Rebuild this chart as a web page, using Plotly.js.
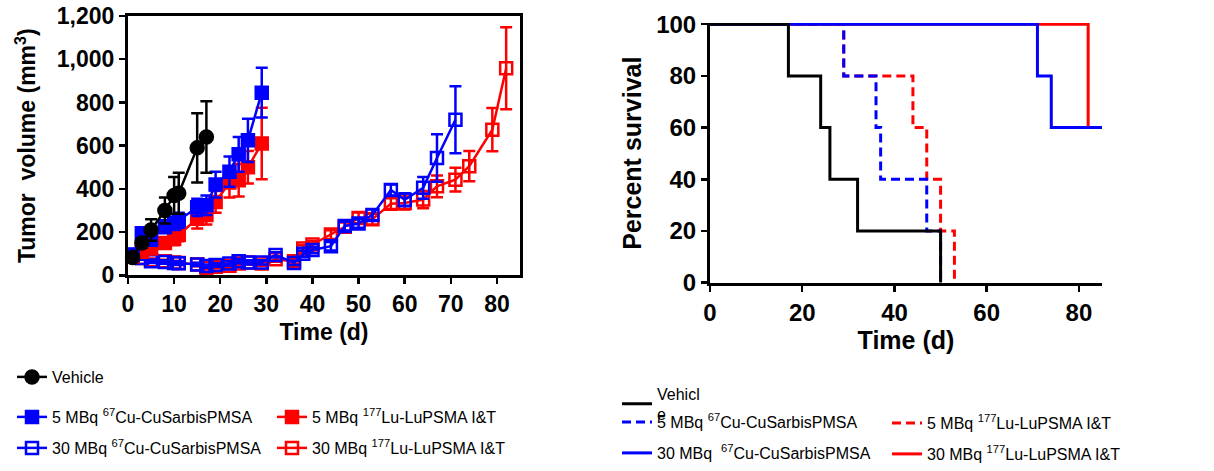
<!DOCTYPE html>
<html>
<head>
<meta charset="utf-8">
<script src="https://cdn.plot.ly/plotly-3.0.1.min.js"></script>
<style>html,body{margin:0;padding:0;background:#fff;}#chart{width:1214px;height:471px;}</style>
</head>
<body>
<div id="chart"></div>
<script>
// ---------- Tumor volume data (left panel) ----------
const vehDays = [1, 3, 5, 8, 10, 11, 15, 17];
const vehVol  = [83, 150, 210, 300, 370, 380, 590, 640];
const vehErr  = [10, 22, 50, 60, 85, 95, 160, 165];

const cu5Days = [1, 3, 5, 8, 10, 11, 15, 17, 19, 22, 24, 26, 29];
const cu5Vol  = [95, 195, 165, 225, 240, 255, 315, 325, 420, 480, 560, 625, 845];
const cu5Err  = [10, 20, 25, 30, 30, 35, 40, 45, 60, 70, 80, 100, 115];

const lu5Days = [1, 3, 5, 8, 10, 11, 15, 17, 19, 22, 24, 26, 29];
const lu5Vol  = [88, 110, 125, 150, 170, 188, 262, 280, 340, 430, 440, 500, 610];
const lu5Err  = [10, 15, 20, 25, 30, 30, 45, 45, 50, 70, 75, 75, 165];

const cu30Days = [1, 3, 5, 8, 10, 11, 15, 17, 19, 22, 24, 26, 29, 32, 36, 38, 40, 44, 47, 50, 53, 57, 60, 64, 67, 71];
const cu30Vol  = [97, 80, 66, 62, 58, 56, 51, 43, 48, 55, 66, 60, 60, 95, 58, 100, 118, 135, 228, 240, 280, 395, 350, 405, 543, 720];
const cu30Err  = [10, 8, 8, 8, 8, 8, 8, 8, 8, 10, 10, 10, 10, 12, 10, 15, 15, 20, 20, 20, 25, 25, 30, 50, 110, 155];

const lu30Days = [1, 3, 5, 8, 10, 11, 15, 17, 19, 22, 24, 26, 29, 32, 36, 38, 40, 44, 47, 50, 53, 57, 60, 64, 67, 71, 74, 79, 82];
const lu30Vol  = [90, 80, 70, 65, 60, 58, 50, 35, 40, 45, 55, 60, 55, 75, 65, 125, 143, 189, 225, 266, 260, 332, 335, 351, 412, 443, 505, 674, 958];
const lu30Err  = [10, 8, 8, 8, 8, 8, 8, 8, 8, 10, 10, 10, 10, 12, 10, 15, 15, 20, 20, 25, 25, 25, 30, 40, 50, 55, 70, 100, 190];

// ---------- Survival data (right panel) ----------
const vehSurvT = [0, 17, 24, 26, 32, 50];
const vehSurvP = [100, 80, 60, 40, 20, 0];
const cu5SurvT = [0, 29, 36, 37, 47, 50];
const cu5SurvP = [100, 80, 60, 40, 20, 0];
const lu5SurvT = [0, 29, 44, 47, 50, 53];
const lu5SurvP = [100, 80, 60, 40, 20, 0];
const cu30SurvT = [0, 71, 74, 85];
const cu30SurvP = [100, 80, 60, 60];
const lu30SurvT = [0, 82];
const lu30SurvP = [100, 60];

// ---------- Labels ----------
const nameVeh  = 'Vehicle';
const nameCu5  = '5 MBq <sup>67</sup>Cu-CuSarbisPMSA';
const nameCu30 = '30 MBq <sup>67</sup>Cu-CuSarbisPMSA';
const nameLu5  = '5 MBq <sup>177</sup>Lu-LuPSMA I&T';
const nameLu30 = '30 MBq <sup>177</sup>Lu-LuPSMA I&T';
const nameVehR = 'Vehicl<br>e';
const nameCu30R = '30 MBq  <sup>67</sup>Cu-CuSarbisPMSA';

const volTicks = [0, 200, 400, 600, 800, 1000, 1200];
const dayTicksL = [0, 10, 20, 30, 40, 50, 60, 70, 80];
const survTicks = [0, 20, 40, 60, 80, 100];
const dayTicksR = [0, 20, 40, 60, 80];

const BLACK = '#000000', BLUE = '#0000FF', RED = '#FF0000';
const FONT = 'Liberation Sans, Arial, sans-serif';
const W = 1214, H = 471;

function volTrace(x, y, err, color, symbol, size, name, legend) {
  return {
    x: x, y: y, name: name, legend: legend, showlegend: true,
    type: 'scatter', mode: 'lines+markers', xaxis: 'x', yaxis: 'y',
    cliponaxis: false,
    line: {color: color, width: 2.5},
    marker: {symbol: symbol, size: size, color: color, line: {color: color, width: 2.5}},
    error_y: {type: 'data', array: err, visible: true, color: color, thickness: 2.5, width: 6}
  };
}
function survTrace(x, y, color, dash, name, legend) {
  return {
    x: x, y: y, name: name, legend: legend, showlegend: true,
    type: 'scatter', mode: 'lines', xaxis: 'x2', yaxis: 'y2',
    line: {color: color, width: 3, dash: dash, shape: 'hv'}
  };
}

const data = [
  volTrace(lu30Days, lu30Vol, lu30Err, RED, 'square-open', 12, nameLu30, 'legend5'),
  volTrace(cu30Days, cu30Vol, cu30Err, BLUE, 'square-open', 12, nameCu30, 'legend3'),
  volTrace(lu5Days, lu5Vol, lu5Err, RED, 'square', 12, nameLu5, 'legend4'),
  volTrace(cu5Days, cu5Vol, cu5Err, BLUE, 'square', 12, nameCu5, 'legend2'),
  volTrace(vehDays, vehVol, vehErr, BLACK, 'circle', 13, nameVeh, 'legend'),
  survTrace(lu5SurvT, lu5SurvP, RED, '9px,5px', nameLu5, 'legend9'),
  survTrace(cu5SurvT, cu5SurvP, BLUE, '9px,5px', nameCu5, 'legend7'),
  survTrace(lu30SurvT, lu30SurvP, RED, 'solid', nameLu30, 'legend10'),
  survTrace(cu30SurvT, cu30SurvP, BLUE, 'solid', nameCu30R, 'legend8'),
  survTrace(vehSurvT, vehSurvP, BLACK, 'solid', nameVehR, 'legend6')
];

function leg(textX, rowY) {
  return {
    x: (textX - 40) / W, xanchor: 'left',
    y: 1 - rowY / H, yanchor: 'middle',
    bgcolor: 'rgba(0,0,0,0)', borderwidth: 0, visible: true,
    font: {family: FONT, size: 16, color: BLACK}
  };
}

const axisBase = {
  showline: true, linecolor: BLACK, linewidth: 3,
  ticks: 'outside', ticklen: 6, tickwidth: 2.5, tickcolor: BLACK,
  showgrid: false, zeroline: false, fixedrange: true
};

const layout = {
  width: W, height: H,
  showlegend: true,
  margin: {l: 0, r: 0, t: 0, b: 0},
  paper_bgcolor: '#ffffff', plot_bgcolor: '#ffffff',
  font: {family: FONT, color: BLACK},
  xaxis: Object.assign({}, axisBase, {
    domain: [128 / W, 520 / W], anchor: 'y', range: [0, 85], mirror: true,
    tickmode: 'array', tickvals: dayTicksL,
    tickfont: {family: FONT, size: 23, weight: 700, color: BLACK},
    title: {text: 'Time (d)', font: {family: FONT, size: 23, weight: 700, color: BLACK}, standoff: 8}
  }),
  yaxis: Object.assign({}, axisBase, {
    domain: [1 - 276 / H, 1 - 16 / H], anchor: 'x', range: [0, 1200], mirror: true,
    tickmode: 'array', tickvals: volTicks, tickformat: ',d',
    tickfont: {family: FONT, size: 23, weight: 700, color: BLACK},
    title: {text: 'Tumor  volume (mm<sup>3</sup>)', font: {family: FONT, size: 23, weight: 700, color: BLACK}, standoff: 15}
  }),
  xaxis2: Object.assign({}, axisBase, {
    domain: [710 / W, 1102 / W], anchor: 'y2', range: [0, 85],
    tickmode: 'array', tickvals: dayTicksR,
    tickfont: {family: FONT, size: 24, weight: 700, color: BLACK},
    title: {text: 'Time (d)', font: {family: FONT, size: 25, weight: 700, color: BLACK}, standoff: 6}
  }),
  yaxis2: Object.assign({}, axisBase, {
    domain: [1 - 284 / H, 1 - 23 / H], anchor: 'x2', range: [-0.3, 100.5],
    tickmode: 'array', tickvals: survTicks,
    tickfont: {family: FONT, size: 24, weight: 700, color: BLACK},
    title: {text: 'Percent survival', font: {family: FONT, size: 25, weight: 700, color: BLACK}, standoff: 8}
  }),
  legend: leg(52, 377),
  legend2: leg(52, 417),
  legend3: leg(52, 448),
  legend4: leg(312, 417),
  legend5: leg(312, 448),
  legend6: leg(657, 404),
  legend7: leg(657, 422),
  legend8: leg(657, 453),
  legend9: leg(927, 423),
  legend10: leg(927, 455)
};

Plotly.newPlot('chart', data, layout, {displayModeBar: false, staticPlot: true});
</script>
</body>
</html>
